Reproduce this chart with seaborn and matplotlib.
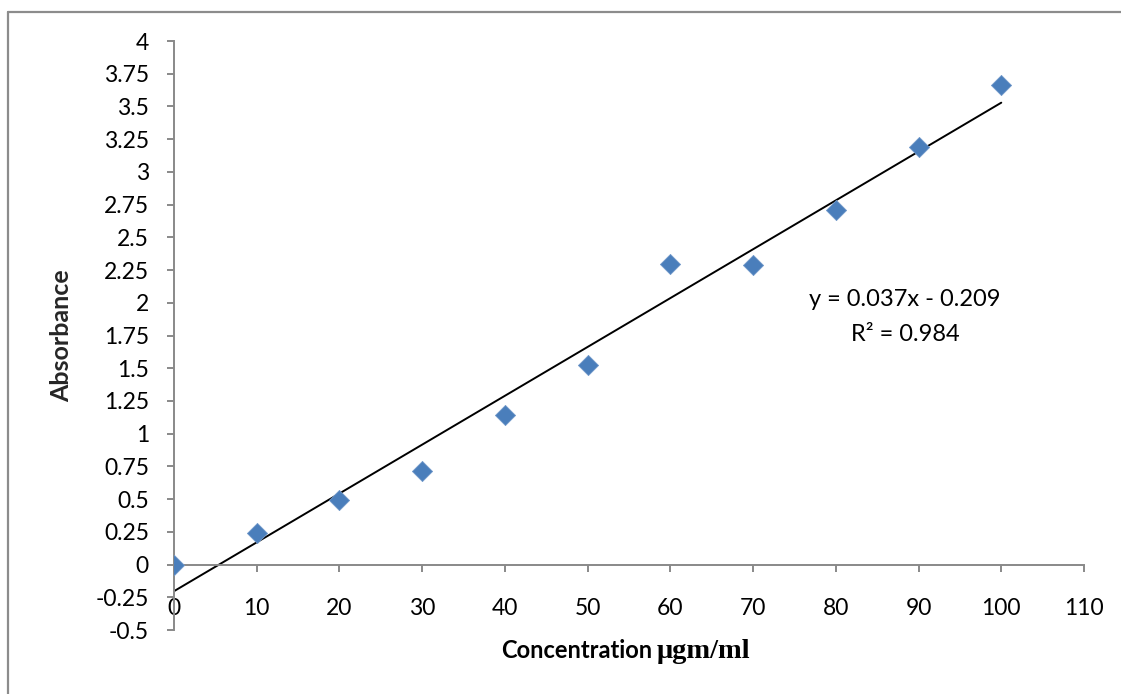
import numpy as np
import pandas as pd
import matplotlib.pyplot as plt
import seaborn as sns
from matplotlib.lines import Line2D

# Values
concentration = [0, 10, 20, 30, 40, 50, 60, 70, 80, 90, 100]
absorbance = [0.0, 0.244, 0.497, 0.718, 1.146, 1.528, 2.30, 2.29, 2.71, 3.19, 3.667]
x_ticks = list(range(0, 111, 10))
y_ticks = [i * 0.25 for i in range(-2, 17)]
equation_text = "y = 0.037x - 0.209"
r2_text = "R² = 0.984"

df = pd.DataFrame({"conc": concentration, "abs": absorbance})

sns.set_theme(style="white")
plt.rcParams['font.family'] = ['Lato', 'DejaVu Sans']

fig = plt.figure(figsize=(11.21, 6.94), dpi=100)
ax = fig.add_axes([0.1552, 0.0922, 0.967 - 0.1552, 0.9409 - 0.0922])

axis_grey = "#898989"

# Trendline (least squares fit)
sns.regplot(data=df, x="conc", y="abs", scatter=False, ci=None, truncate=True,
            color="black", line_kws={"linewidth": 1.4}, ax=ax)

# Data points
sns.scatterplot(data=df, x="conc", y="abs", marker="D", s=105, color="#4A7EBB",
                edgecolor="#6F97C9", linewidth=0.6, zorder=3, ax=ax)

ax.set_xlim(0, 110)
ax.set_ylim(-0.5, 4)
ax.set_xticks(x_ticks)
ax.set_yticks(y_ticks)
ax.set_yticklabels([f"{v:g}" for v in y_ticks])
ax.set_xticklabels([str(v) for v in x_ticks])

for side in ["top", "right"]:
    ax.spines[side].set_visible(False)
ax.spines["bottom"].set_position(("data", 0))
for side in ["left", "bottom"]:
    ax.spines[side].set_color(axis_grey)
    ax.spines[side].set_linewidth(1.4)

ax.tick_params(axis="y", direction="out", length=5, width=1.4, color=axis_grey,
               pad=13, labelsize=16.5, labelcolor="black", left=True)
ax.tick_params(axis="x", direction="out", length=5, width=1.4, color=axis_grey,
               pad=19, labelsize=16.5, labelcolor="black", bottom=True)

ax.set_xlabel("")
ax.set_ylabel("Absorbance", fontsize=18, fontweight="bold")
ax.yaxis.set_label_coords(-0.111, 0.5)

# x axis title: sans part plus serif unit part
fig.text(652 / 1121, 1 - 651 / 694, "Concentration", ha="right", va="center",
         fontsize=17, fontweight="bold", color="black")
fig.text(657 / 1121, 1 - 651 / 694, "μgm/ml", ha="left", va="center",
         fontsize=20.5, fontweight="bold", color="black", family="Liberation Serif")

# Trendline label
ax.text(905 / 1121, 1 - 300 / 694, equation_text, transform=fig.transFigure,
        ha="center", va="center", fontsize=17, color="black")
ax.text(905 / 1121, 1 - 335 / 694, r2_text, transform=fig.transFigure,
        ha="center", va="center", fontsize=17, color="black")

# Chart area border (left and top edges visible)
fig.add_artist(Line2D([8 / 1121, 8 / 1121], [0, 1 - 11.5 / 694],
                      transform=fig.transFigure, color="#8c8c8c", linewidth=1.6))
fig.add_artist(Line2D([8 / 1121, 1], [1 - 11.5 / 694, 1 - 11.5 / 694],
                      transform=fig.transFigure, color="#8c8c8c", linewidth=1.6))

fig.savefig("out.png", dpi=100)
plt.close(fig)
